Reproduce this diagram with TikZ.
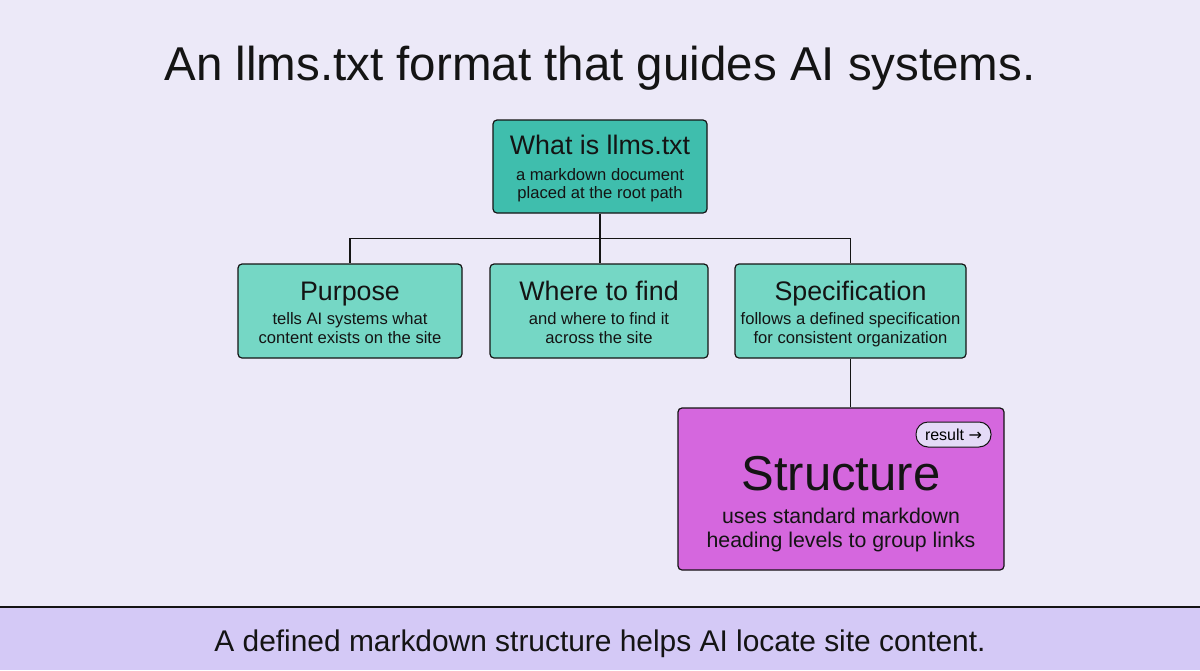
\documentclass[tikz,border=0pt]{standalone}
\usepackage{fontspec}
\setmainfont{Liberation Sans}
\newfontfamily\arrowfont{DejaVu Sans}
\usetikzlibrary{positioning}
\definecolor{bgcol}{HTML}{ECE9F8}
\definecolor{tealdark}{HTML}{3FBEAD}
\definecolor{teallight}{HTML}{75D7C5}
\definecolor{magentabox}{HTML}{D567DE}
\definecolor{pillcol}{HTML}{E4DBF7}
\definecolor{bandcol}{HTML}{D4C9F6}
\definecolor{inkcol}{HTML}{141414}
\tikzset{
    %Define style for boxes
    rootbox/.style={
           rectangle,
           rounded corners=4pt,
           draw=inkcol, line width=1.2pt,
           fill=tealdark,
           minimum width=214pt,
           minimum height=93pt},
    childbox/.style={
           rectangle,
           rounded corners=4pt,
           draw=inkcol, line width=1.2pt,
           fill=teallight,
           minimum width=224pt,
           minimum height=94pt},
    resultbox/.style={
           rectangle,
           rounded corners=4pt,
           draw=inkcol, line width=1.2pt,
           fill=magentabox,
           minimum width=326pt,
           minimum height=162pt},
    pill/.style={
           rectangle,
           rounded corners=12pt,
           draw=inkcol, line width=1pt,
           fill=pillcol,
           minimum width=75pt,
           minimum height=25pt,
           font=\fontsize{16}{19}\selectfont},
    % Define text styles
    headtxt/.style={text=inkcol, anchor=base, inner sep=0pt, font=\fontsize{26.8}{32}\selectfont},
    subtxt/.style={text=inkcol, anchor=base, inner sep=0pt, font=\fontsize{16.6}{20}\selectfont},
    % Define connector style
    conn/.style={draw=inkcol, line width=1.3pt}
}
\begin{document}
\begin{tikzpicture}[x=1pt,y=-1pt]
\useasboundingbox (0,0) rectangle (1200,670);
\fill[bgcol] (0,0) rectangle (1200,670);
% band at the bottom
\fill[bandcol] (0,607) rectangle (1200,670);
\draw[inkcol, line width=1.5pt] (0,607) -- (1200,607);
\node[text=inkcol, anchor=base, font=\fontsize{29.9}{36}\selectfont] (note) at (600,651)
  {A defined markdown structure helps AI locate site content.};
% title
\node[text=inkcol, anchor=base, font=\fontsize{47.5}{56}\selectfont] (title) at (600,80)
  {An llms.txt format that guides AI systems.};
% boxes
\node[rootbox] (root) at (600,166.5) {};
\node[childbox] (purpose) at (350,311) {};
\node[childbox, minimum width=218pt] (where) at (599,311) {};
\node[childbox, minimum width=231pt] (spec) at (850.5,311) {};
\node[resultbox] (struct) at (841,489) {};
% texts in the boxes
\node[headtxt] (roothead) at ([yshift=-35pt]root.north) {What is llms.txt};
\node[subtxt] (rootsubA) at ([yshift=-61pt]root.north) {a markdown document};
\node[subtxt] (rootsubB) at ([yshift=-79pt]root.north) {placed at the root path};
\node[headtxt] (purposehead) at ([yshift=-37pt]purpose.north) {Purpose};
\node[subtxt] (purposesubA) at ([yshift=-61pt]purpose.north) {tells AI systems what};
\node[subtxt] (purposesubB) at ([yshift=-80pt]purpose.north) {content exists on the site};
\node[headtxt] (wherehead) at ([yshift=-37pt]where.north) {Where to find};
\node[subtxt] (wheresubA) at ([yshift=-61pt]where.north) {and where to find it};
\node[subtxt] (wheresubB) at ([yshift=-80pt]where.north) {across the site};
\node[headtxt] (spechead) at ([yshift=-37pt]spec.north) {Specification};
\node[subtxt] (specsubA) at ([yshift=-61pt]spec.north) {follows a defined specification};
\node[subtxt] (specsubB) at ([yshift=-80pt]spec.north) {for consistent organization};
\node[headtxt, font=\fontsize{49}{58}\selectfont] (structhead) at ([yshift=-83pt]struct.north) {Structure};
\node[subtxt, font=\fontsize{21.3}{26}\selectfont] (structsubA) at ([yshift=-116pt]struct.north) {uses standard markdown};
\node[subtxt, font=\fontsize{21.3}{26}\selectfont] (structsubB) at ([yshift=-140pt]struct.north) {heading levels to group links};
\node[pill] (tag) at (953.5,434.5) {result {\arrowfont →}};
% connectors
\coordinate[below=25pt of root] (split);
\draw[conn] (root) -- (split);
\draw[conn] (split) -| (purpose.north);
\draw[conn] (split) -| (spec.north);
\draw[conn] (split) -- (split |- where.north);
\draw[conn] (spec.south) -- (spec.south |- struct.north);
\end{tikzpicture}
\end{document}
